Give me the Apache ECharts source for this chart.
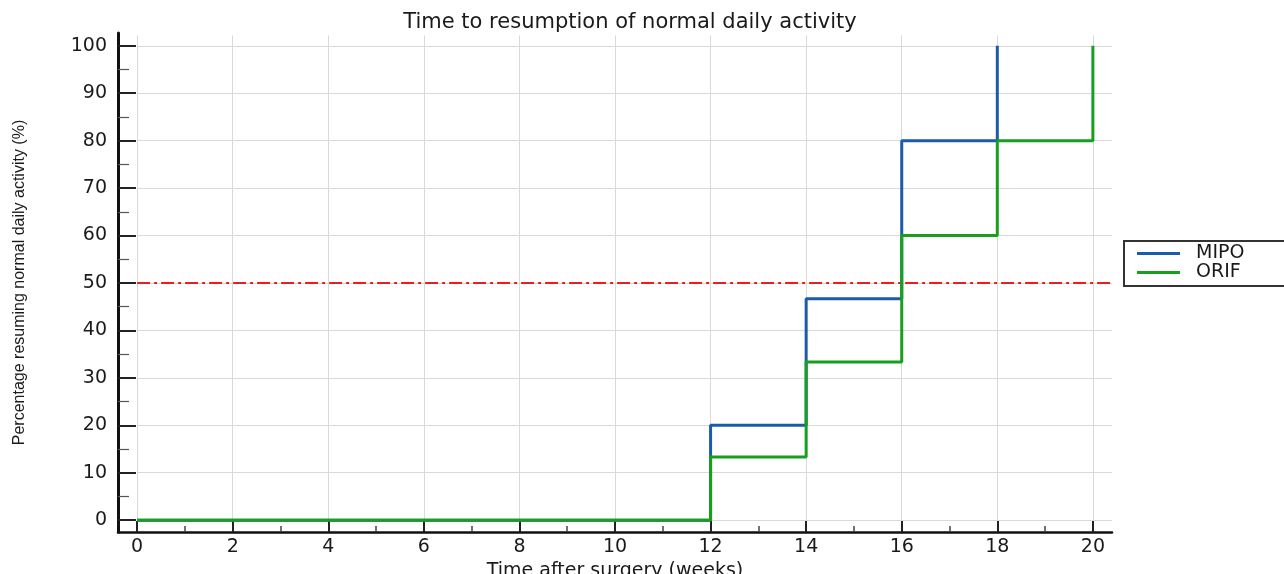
<!DOCTYPE html>
<html>
<head>
<meta charset="utf-8">
<script src="https://cdn.jsdelivr.net/npm/echarts@6/dist/echarts.min.js"></script>
<style>
  html, body { margin: 0; padding: 0; background: #fff; }
  #res { width: 1284px; height: 574px; }
</style>
</head>
<body>
<div id="res"></div>
<script>
// data
const seriesNames = ['MIPO', 'ORIF'];
const mipoWeeks = [0, 12, 14, 16, 18];
const mipoPct = [0, 20, 46.67, 80, 100];
const orifWeeks = [0, 12, 14, 16, 18, 20];
const orifPct = [0, 13.33, 33.33, 60, 80, 100];
const medianLine = 50;

// tick labels
const xTicks = [0, 2, 4, 6, 8, 10, 12, 14, 16, 18, 20];
const xMinorTicks = [1, 3, 5, 7, 9, 11, 13, 15, 17, 19];
const yTicks = [0, 10, 20, 30, 40, 50, 60, 70, 80, 90, 100];
const yMinorTicks = [5, 15, 25, 35, 45, 55, 65, 75, 85, 95];

// axis extents (axes sit a bit away from the data)
const xMin = -0.4, xMax = 20.4;
const yMin = -2.5, yMax = 102.7;

const font = 'DejaVu Sans, sans-serif';
const narrowFont = 'Liberation Sans, Arial, sans-serif';

function pairs(xs, ys) {
  return xs.map((x, i) => [x, ys[i]]);
}

function draw_res() {
  let chartDom = document.getElementById('res');
  let myChart = echarts.init(chartDom);

  // grid lines drawn as mark lines so they sit on the tick values
  let gridLines = [];
  yTicks.forEach(v => gridLines.push([{coord: [0, v]}, {coord: [xMax, v]}]));
  xTicks.forEach(v => gridLines.push([{coord: [v, -0.2]}, {coord: [v, 102.2]}]));

  let baseX = {
    type: 'value', min: xMin, max: xMax, position: 'bottom',
    splitLine: {show: false}
  };
  let baseY = {
    type: 'value', min: yMin, max: yMax, position: 'left',
    splitLine: {show: false}
  };

  let option = {
    animation: false,
    textStyle: {fontFamily: font},
    title: {
      text: 'Time to resumption of normal daily activity',
      left: 625,
      textAlign: 'center',
      top: 7,
      textStyle: {fontSize: 21, fontWeight: 'normal', color: '#1a1a1a', fontFamily: font}
    },
    legend: {
      data: seriesNames,
      orient: 'vertical',
      left: 1124,
      top: 241,
      borderColor: '#333',
      borderWidth: 2,
      padding: [3, 50, 4, 13],
      itemGap: 0,
      itemWidth: 43,
      itemHeight: 3,
      icon: 'rect',
      textStyle: {fontSize: 19, color: '#1a1a1a', fontFamily: font, padding: [0, 0, 0, 11]}
    },
    grid: {left: 118, right: 172, top: 33, bottom: 42, outerBoundsMode: 'none', containLabel: false},
    xAxis: [
      Object.assign({}, baseX, {
        name: 'Time after surgery (weeks)',
        nameLocation: 'middle',
        nameGap: 30,
        nameTextStyle: {fontSize: 19, color: '#1a1a1a', fontFamily: font},
        axisLine: {show: true, onZero: false, lineStyle: {color: '#111', width: 2.5}},
        axisTick: {show: true, inside: true, length: 11, customValues: xTicks,
          lineStyle: {color: '#222', width: 2}},
        axisLabel: {customValues: xTicks, margin: 6, fontSize: 19, color: '#1a1a1a', fontFamily: font}
      }),
      Object.assign({}, baseX, {
        axisLine: {show: false, onZero: false},
        axisTick: {show: true, inside: true, length: 6, customValues: xMinorTicks,
          lineStyle: {color: '#444', width: 1.5}},
        axisLabel: {show: false}
      })
    ],
    yAxis: [
      Object.assign({}, baseY, {
        name: 'Percentage resuming normal daily activity (%)',
        nameLocation: 'middle',
        nameGap: 90,
        nameTextStyle: {fontSize: 16, color: '#1a1a1a', fontFamily: narrowFont},
        axisLine: {show: true, onZero: false, lineStyle: {color: '#111', width: 3}},
        axisTick: {show: true, inside: true, length: 18, customValues: yTicks,
          lineStyle: {color: '#222', width: 2}},
        axisLabel: {customValues: yTicks, margin: 11, fontSize: 19, color: '#1a1a1a', fontFamily: font}
      }),
      Object.assign({}, baseY, {
        axisLine: {show: false, onZero: false},
        axisTick: {show: true, inside: true, length: 11, customValues: yMinorTicks,
          lineStyle: {color: '#555', width: 1.2}},
        axisLabel: {show: false}
      })
    ],
    series: [
      {
        name: 'grid',
        type: 'line',
        data: [],
        z: 1,
        markLine: {
          silent: true,
          z: 0,
          symbol: 'none',
          label: {show: false},
          lineStyle: {color: '#d9d9d9', width: 1, type: 'solid'},
          data: gridLines
        }
      },
      {
        name: 'median',
        type: 'line',
        data: [],
        z: 1,
        markLine: {
          silent: true,
          z: 1,
          symbol: 'none',
          label: {show: false},
          lineStyle: {color: '#ee1c1c', width: 2, type: [13, 4, 3, 4]},
          data: [[{coord: [0, medianLine]}, {coord: [xMax, medianLine]}]]
        }
      },
      {
        name: seriesNames[0],
        type: 'line',
        step: 'end',
        symbol: 'none',
        z: 3,
        color: '#1a5caa',
        lineStyle: {width: 3, color: '#1a5caa'},
        data: pairs(mipoWeeks, mipoPct)
      },
      {
        name: seriesNames[1],
        type: 'line',
        step: 'end',
        symbol: 'none',
        z: 4,
        color: '#17a01c',
        lineStyle: {width: 3, color: '#17a01c'},
        data: pairs(orifWeeks, orifPct)
      }
    ]
  };
  option && myChart.setOption(option);
}

draw_res();
</script>
</body>
</html>
